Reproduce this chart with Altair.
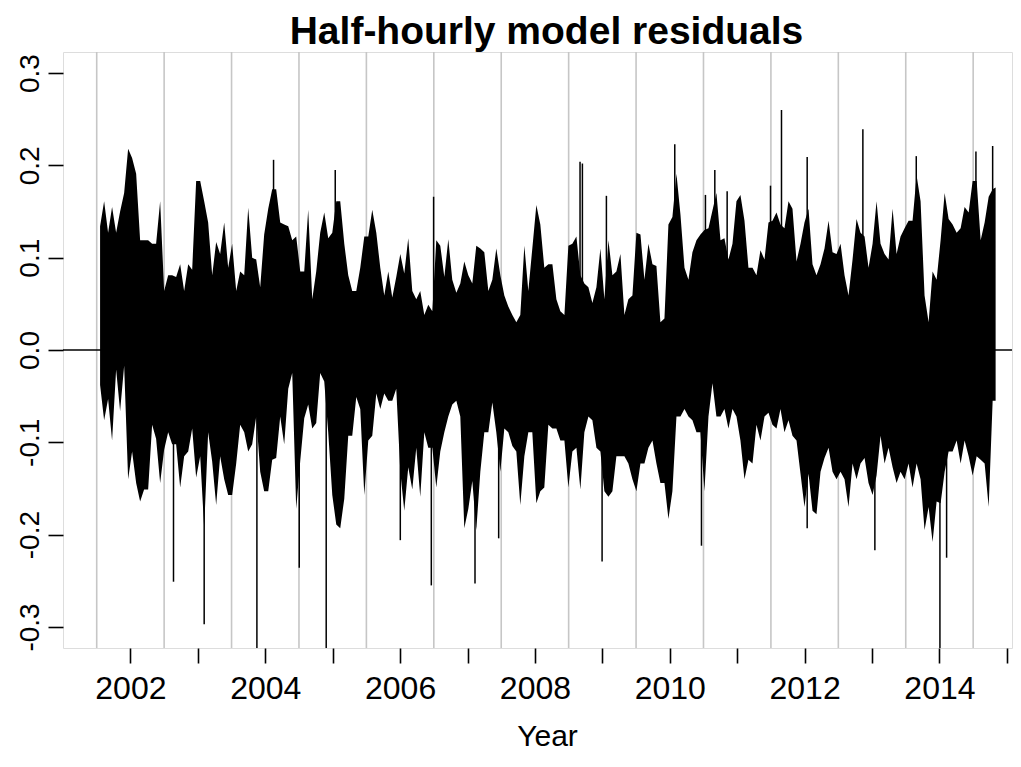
import altair as alt
import pandas as pd

FONT = "Liberation Sans"

# ---- residual envelope (max / min per ~0.06 yr) ----
t1 = [2001.550, 2001.610, 2001.669, 2001.728, 2001.788, 2001.847, 2001.907, 2001.966, 2002.025, 2002.085,
      2002.144, 2002.203, 2002.263, 2002.322, 2002.381, 2002.441, 2002.500, 2002.560, 2002.619, 2002.678,
      2002.738, 2002.797, 2002.857, 2002.916, 2002.975, 2003.035, 2003.094, 2003.153, 2003.213, 2003.272,
      2003.331, 2003.391, 2003.450]
hi1 = [0.134, 0.161, 0.127, 0.155, 0.127, 0.150, 0.170, 0.218, 0.208, 0.191,
       0.119, 0.119, 0.119, 0.115, 0.115, 0.161, 0.064, 0.081, 0.081, 0.079,
       0.093, 0.064, 0.093, 0.087, 0.183, 0.183, 0.161, 0.138, 0.081, 0.117,
       0.104, 0.138, 0.089]
lo1 = [-0.038, -0.076, -0.053, -0.098, -0.021, -0.066, -0.017, -0.140, -0.110, -0.144,
       -0.164, -0.151, -0.151, -0.081, -0.096, -0.144, -0.108, -0.089, -0.102, -0.102,
       -0.149, -0.115, -0.110, -0.085, -0.138, -0.115, -0.193, -0.089, -0.121, -0.168,
       -0.115, -0.140, -0.157]

t2 = [2003.509, 2003.569, 2003.628, 2003.688, 2003.747, 2003.806, 2003.866, 2003.925, 2003.984, 2004.044,
      2004.103, 2004.162, 2004.222, 2004.281, 2004.341, 2004.400, 2004.459, 2004.519, 2004.578, 2004.637,
      2004.697, 2004.756, 2004.815, 2004.875, 2004.934, 2004.994, 2005.053, 2005.112, 2005.172, 2005.231,
      2005.290, 2005.350, 2005.409, 2005.469, 2005.528, 2005.587, 2005.647, 2005.706, 2005.765, 2005.825]
hi2 = [0.115, 0.064, 0.085, 0.081, 0.154, 0.100, 0.098, 0.068, 0.125, 0.153,
       0.174, 0.174, 0.138, 0.136, 0.134, 0.119, 0.123, 0.085, 0.085, 0.152,
       0.055, 0.085, 0.127, 0.149, 0.121, 0.127, 0.161, 0.161, 0.115, 0.081,
       0.064, 0.064, 0.089, 0.123, 0.123, 0.152, 0.127, 0.089, 0.059, 0.085]
lo2 = [-0.157, -0.123, -0.081, -0.089, -0.110, -0.102, -0.072, -0.132, -0.153, -0.153,
       -0.119, -0.117, -0.072, -0.102, -0.042, -0.025, -0.172, -0.120, -0.074, -0.059,
       -0.085, -0.079, -0.025, -0.034, -0.089, -0.157, -0.189, -0.193, -0.161, -0.093,
       -0.093, -0.051, -0.064, -0.157, -0.098, -0.093, -0.047, -0.064, -0.047, -0.055]

t3 = [2005.884, 2005.943, 2006.003, 2006.062, 2006.121, 2006.181, 2006.240, 2006.299, 2006.359, 2006.418,
      2006.478, 2006.537, 2006.596, 2006.656, 2006.715, 2006.774, 2006.834, 2006.893, 2006.952, 2007.012,
      2007.071, 2007.130, 2007.190, 2007.249, 2007.309, 2007.368, 2007.427, 2007.487, 2007.546, 2007.605,
      2007.665, 2007.724, 2007.783, 2007.843, 2007.902, 2007.961, 2008.021, 2008.080, 2008.139, 2008.199]
hi3 = [0.057, 0.079, 0.104, 0.083, 0.121, 0.064, 0.055, 0.064, 0.038, 0.049,
       0.042, 0.119, 0.113, 0.079, 0.120, 0.076, 0.062, 0.072, 0.096, 0.081,
       0.072, 0.113, 0.110, 0.106, 0.064, 0.076, 0.110, 0.081, 0.059, 0.047,
       0.038, 0.030, 0.038, 0.113, 0.064, 0.110, 0.157, 0.136, 0.089, 0.093]
lo3 = [-0.055, -0.042, -0.132, -0.174, -0.127, -0.151, -0.106, -0.159, -0.089, -0.106,
       -0.106, -0.149, -0.110, -0.089, -0.072, -0.059, -0.055, -0.072, -0.193, -0.172,
       -0.142, -0.195, -0.132, -0.089, -0.089, -0.057, -0.089, -0.132, -0.085, -0.089,
       -0.104, -0.110, -0.168, -0.115, -0.089, -0.089, -0.166, -0.153, -0.149, -0.081]

t4 = [2008.259, 2008.318, 2008.377, 2008.437, 2008.496, 2008.555, 2008.615, 2008.674, 2008.733, 2008.793,
      2008.852, 2008.912, 2008.971, 2009.030, 2009.090, 2009.149, 2009.208, 2009.268, 2009.327, 2009.386,
      2009.446, 2009.505, 2009.565, 2009.624, 2009.683, 2009.743, 2009.802, 2009.861, 2009.921, 2009.980,
      2010.039, 2010.099, 2010.158, 2010.218, 2010.277, 2010.336, 2010.396, 2010.455, 2010.514, 2010.574]
hi4 = [0.093, 0.055, 0.042, 0.038, 0.113, 0.115, 0.123, 0.081, 0.072, 0.068,
       0.051, 0.068, 0.110, 0.055, 0.119, 0.081, 0.085, 0.104, 0.038, 0.055,
       0.059, 0.127, 0.125, 0.076, 0.115, 0.093, 0.091, 0.030, 0.034, 0.136,
       0.144, 0.191, 0.147, 0.089, 0.076, 0.106, 0.119, 0.125, 0.130, 0.132]
lo4 = [-0.085, -0.085, -0.098, -0.098, -0.149, -0.110, -0.106, -0.151, -0.089, -0.072,
       -0.076, -0.106, -0.110, -0.153, -0.159, -0.153, -0.115, -0.115, -0.115, -0.123,
       -0.140, -0.153, -0.123, -0.123, -0.106, -0.098, -0.123, -0.144, -0.144, -0.183,
       -0.153, -0.072, -0.072, -0.064, -0.072, -0.076, -0.089, -0.089, -0.153, -0.072]

t5 = [2010.633, 2010.692, 2010.752, 2010.811, 2010.870, 2010.930, 2010.989, 2011.048, 2011.108, 2011.167,
      2011.227, 2011.286, 2011.345, 2011.405, 2011.464, 2011.523, 2011.583, 2011.642, 2011.701, 2011.761,
      2011.820, 2011.880, 2011.939, 2011.998, 2012.058, 2012.117, 2012.176, 2012.236, 2012.295, 2012.355,
      2012.414, 2012.473, 2012.533, 2012.592, 2012.651, 2012.711, 2012.770, 2012.829, 2012.889, 2012.948]
hi5 = [0.151, 0.170, 0.119, 0.121, 0.098, 0.115, 0.161, 0.168, 0.140, 0.089,
       0.089, 0.081, 0.108, 0.098, 0.138, 0.140, 0.149, 0.136, 0.132, 0.161,
       0.153, 0.096, 0.115, 0.138, 0.153, 0.093, 0.081, 0.093, 0.110, 0.140,
       0.106, 0.104, 0.115, 0.081, 0.059, 0.098, 0.142, 0.127, 0.123, 0.089]
lo5 = [-0.036, -0.072, -0.072, -0.064, -0.085, -0.064, -0.072, -0.098, -0.140, -0.119,
       -0.123, -0.081, -0.098, -0.072, -0.068, -0.081, -0.085, -0.064, -0.089, -0.076,
       -0.093, -0.098, -0.134, -0.170, -0.134, -0.174, -0.178, -0.132, -0.117, -0.106,
       -0.132, -0.140, -0.132, -0.140, -0.170, -0.123, -0.140, -0.123, -0.117, -0.144]

t6 = [2013.008, 2013.067, 2013.126, 2013.186, 2013.245, 2013.305, 2013.364, 2013.423, 2013.483, 2013.542,
      2013.601, 2013.661, 2013.720, 2013.779, 2013.839, 2013.898, 2013.958, 2014.017, 2014.077, 2014.136,
      2014.195, 2014.255, 2014.314, 2014.373, 2014.433, 2014.492, 2014.552, 2014.611, 2014.670, 2014.730,
      2014.789, 2014.833]
hi6 = [0.115, 0.161, 0.115, 0.104, 0.098, 0.153, 0.104, 0.123, 0.132, 0.140,
       0.140, 0.189, 0.161, 0.059, 0.030, 0.085, 0.076, 0.119, 0.170, 0.142,
       0.136, 0.127, 0.132, 0.155, 0.149, 0.183, 0.183, 0.119, 0.138, 0.166,
       0.174, 0.176]
lo6 = [-0.157, -0.136, -0.093, -0.123, -0.106, -0.127, -0.144, -0.132, -0.140, -0.123,
       -0.149, -0.123, -0.140, -0.195, -0.170, -0.208, -0.164, -0.166, -0.132, -0.110,
       -0.110, -0.098, -0.123, -0.098, -0.115, -0.136, -0.115, -0.119, -0.123, -0.170,
       -0.055, -0.055]

# ---- isolated thin spikes ----
spike_t = [2002.639, 2003.094, 2003.876, 2004.504, 2004.904, 2006.003, 2006.463, 2007.111,
           2007.462, 2008.996, 2010.470, 2012.038, 2013.042, 2014.007, 2014.106,
           2004.123, 2005.038, 2006.497, 2008.669, 2008.704, 2009.060, 2010.074, 2010.529,
           2010.668, 2010.851, 2011.494, 2011.657, 2012.038, 2012.864, 2013.656, 2014.541, 2014.789]
spike_v = [-0.251, -0.297, -0.340, -0.236, -0.340, -0.206, -0.255, -0.253,
           -0.204, -0.229, -0.212, -0.193, -0.217, -0.340, -0.225,
           0.206, 0.195, 0.166, 0.204, 0.202, 0.167, 0.223, 0.168,
           0.195, 0.172, 0.178, 0.260, 0.209, 0.239, 0.210, 0.215, 0.221]

# ---- guides ----
mid_years = [2001.5, 2002.5, 2003.5, 2004.5, 2005.5, 2006.5, 2007.5,
             2008.5, 2009.5, 2010.5, 2011.5, 2012.5, 2013.5, 2014.5]
year_ticks = [2002, 2003, 2004, 2005, 2006, 2007, 2008, 2009, 2010, 2011, 2012, 2013, 2014, 2015]
y_ticks = [-0.3, -0.2, -0.1, 0.0, 0.1, 0.2, 0.3]
zero_level = [0.0]

env = pd.DataFrame({
    "t": t1 + t2 + t3 + t4 + t5 + t6,
    "hi": hi1 + hi2 + hi3 + hi4 + hi5 + hi6,
    "lo": lo1 + lo2 + lo3 + lo4 + lo5 + lo6,
})
spikes = pd.DataFrame({"t": spike_t, "v": spike_v})
grid = pd.DataFrame({"t": mid_years})
zero = pd.DataFrame({"v": zero_level})

x_scale = alt.Scale(domain=[2001.0, 2015.076], nice=False, zero=False)
y_scale = alt.Scale(domain=[-0.3228, 0.3228], nice=False, zero=False)

x_axis = alt.Axis(
    values=year_ticks,
    labelExpr="datum.value % 2 == 0 ? format(datum.value, 'd') : ''",
    tickSize=15, tickWidth=1.6, tickColor="black",
    domain=False, grid=False,
    labelFont=FONT, labelFontSize=32, labelColor="black",
    labelBaseline="alphabetic", labelPadding=35,
    labelOverlap=False, labelFlush=False,
    title="Year", titleFont=FONT, titleFontSize=30, titleFontWeight="normal",
    titleColor="black", titleBaseline="alphabetic", titleAlign="center",
    titleX=484, titleY=97,
)
y_axis = alt.Axis(
    values=y_ticks,
    labelExpr="(datum.value < 0 ? '-' : '') + format(abs(datum.value), '.1f')",
    tickSize=15, tickWidth=1.6, tickColor="black",
    domain=False, grid=False,
    labelFont=FONT, labelFontSize=28, labelColor="black",
    labelAngle=270, labelAlign="center", labelBaseline="alphabetic",
    labelPadding=10, labelOverlap=False, labelFlush=False,
    title=None,
)

X = alt.X("t:Q", scale=x_scale, axis=x_axis)

grey = alt.Chart(grid).mark_rule(color="#c6c6c6", strokeWidth=1.6).encode(x=X)

body = alt.Chart(env).mark_area(color="black", interpolate="linear", clip=True).encode(
    x=X,
    y=alt.Y("hi:Q", scale=y_scale, axis=y_axis),
    y2="lo:Q",
)

spike = alt.Chart(spikes).mark_rule(color="black", strokeWidth=1.5, clip=True).encode(
    x=X,
    y=alt.Y("v:Q", scale=y_scale, axis=y_axis),
    y2=alt.Y2Datum(0),
)

zline = alt.Chart(zero).mark_rule(color="black", strokeWidth=1.6).encode(
    y=alt.Y("v:Q", scale=y_scale, axis=y_axis),
)

chart = alt.layer(grey, body, spike, zline).properties(
    width=949,
    height=596,
    padding={"left": 55, "top": 44, "right": 1, "bottom": 105},
    autosize=alt.AutoSizeParams(type="none"),
    title=alt.TitleParams(
        text="Half-hourly model residuals",
        font=FONT, fontSize=39, fontWeight="bold", color="black",
        anchor="middle", frame="group", baseline="top", offset=-1, dx=9,
    ),
).configure_view(
    stroke="black", strokeWidth=1.6
).configure(background="white")

chart.save("out.html", embed_options={"renderer": "svg", "actions": False})
